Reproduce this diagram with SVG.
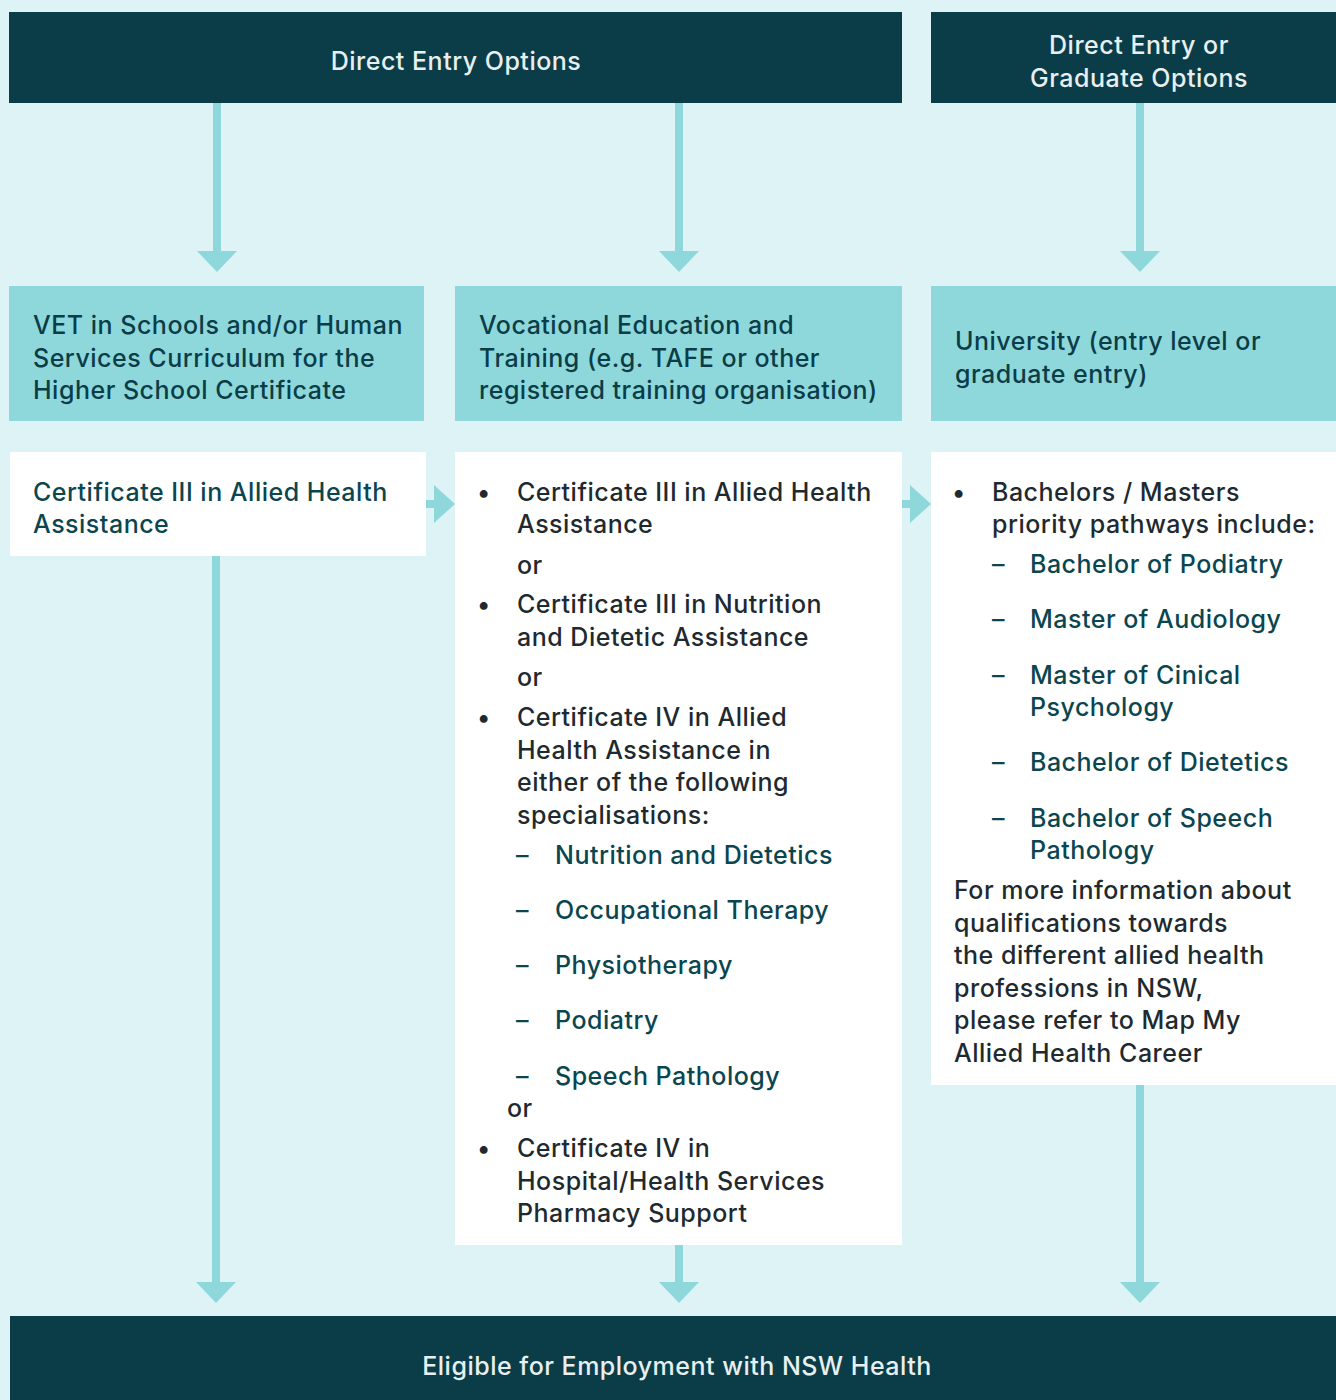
<svg xmlns="http://www.w3.org/2000/svg" width="1336" height="1400" viewBox="0 0 1336 1400">
<style>
text{font-family:Inter,"Noto Sans","Liberation Sans",sans-serif;font-size:25px;font-weight:500;letter-spacing:0.5px}
.hd{fill:#0b3d48}
.hdt{fill:#e8eff1;text-anchor:middle}
.cy{fill:#8ed8db}
.cyt{fill:#0b3d48}
.wb{fill:#ffffff}
.bt{fill:#1e2a2f}
.st{fill:#0b4650}
.arr{fill:#8ed8db}
</style>
<rect width="1336" height="1400" fill="#def3f5"/>
<g id="connectors">
<rect class="arr" x="213" y="103" width="8" height="150"/>
<polygon class="arr" points="197,251 237,251 217,272"/>
<rect class="arr" x="675" y="103" width="8" height="150"/>
<polygon class="arr" points="659,251 699,251 679,272"/>
<rect class="arr" x="1136" y="103" width="8" height="150"/>
<polygon class="arr" points="1120,251 1160,251 1140,272"/>
<rect class="arr" x="426" y="500" width="10" height="8"/>
<polygon class="arr" points="434,485 434,523 455,504"/>
<rect class="arr" x="901" y="500" width="10" height="8"/>
<polygon class="arr" points="910,485 910,523 931,504"/>
<rect class="arr" x="212" y="556" width="8" height="728"/>
<polygon class="arr" points="196,1282 236,1282 216,1303"/>
<rect class="arr" x="675" y="1245" width="8" height="39"/>
<polygon class="arr" points="659,1282 699,1282 679,1303"/>
<rect class="arr" x="1136" y="1085" width="8" height="199"/>
<polygon class="arr" points="1120,1282 1160,1282 1140,1303"/>
</g>
<g id="header-direct">
<rect class="hd" x="9" y="12" width="893" height="91"/>
<text class="hdt" x="456" y="70">Direct Entry Options</text>
</g>
<g id="header-graduate">
<rect class="hd" x="931" y="12" width="405" height="91"/>
<text class="hdt" x="1139" y="54">Direct Entry or</text>
<text class="hdt" x="1139" y="87">Graduate Options</text>
</g>
<g id="vet-schools">
<rect class="cy" x="9" y="286" width="415" height="135"/>
<text class="cyt" x="33" y="334">VET in Schools and/or Human</text>
<text class="cyt" x="33" y="367">Services Curriculum for the</text>
<text class="cyt" x="33" y="399">Higher School Certificate</text>
</g>
<g id="vet-training">
<rect class="cy" x="455" y="286" width="447" height="135"/>
<text class="cyt" x="479" y="334">Vocational Education and</text>
<text class="cyt" x="479" y="367">Training (e.g. TAFE or other</text>
<text class="cyt" x="479" y="399">registered training organisation)</text>
</g>
<g id="university">
<rect class="cy" x="931" y="286" width="405" height="135"/>
<text class="cyt" x="955" y="350">University (entry level or</text>
<text class="cyt" x="955" y="383">graduate entry)</text>
</g>
<g id="cert-school">
<rect class="wb" x="10" y="452" width="416" height="104"/>
<text class="st" x="33" y="501">Certificate III in Allied Health</text>
<text class="st" x="33" y="533">Assistance</text>
</g>
<g id="vet-quals">
<rect class="wb" x="455" y="452" width="447" height="793"/>
<text class="bt" x="477" y="501">•</text>
<text class="bt" x="517" y="501">Certificate III in Allied Health</text>
<text class="bt" x="517" y="533">Assistance</text>
<text class="bt" x="517" y="574">or</text>
<text class="bt" x="477" y="613">•</text>
<text class="bt" x="517" y="613">Certificate III in Nutrition</text>
<text class="bt" x="517" y="646">and Dietetic Assistance</text>
<text class="bt" x="517" y="686">or</text>
<text class="bt" x="477" y="726">•</text>
<text class="bt" x="517" y="726">Certificate IV in Allied</text>
<text class="bt" x="517" y="759">Health Assistance in</text>
<text class="bt" x="517" y="791">either of the following</text>
<text class="bt" x="517" y="824">specialisations:</text>
<text class="st" x="516" y="864">–</text>
<text class="st" x="555" y="864">Nutrition and Dietetics</text>
<text class="st" x="516" y="919">–</text>
<text class="st" x="555" y="919">Occupational Therapy</text>
<text class="st" x="516" y="974">–</text>
<text class="st" x="555" y="974">Physiotherapy</text>
<text class="st" x="516" y="1029">–</text>
<text class="st" x="555" y="1029">Podiatry</text>
<text class="st" x="516" y="1085">–</text>
<text class="st" x="555" y="1085">Speech Pathology</text>
<text class="bt" x="507" y="1117">or</text>
<text class="bt" x="477" y="1157">•</text>
<text class="bt" x="517" y="1157">Certificate IV in</text>
<text class="bt" x="517" y="1190">Hospital/Health Services</text>
<text class="bt" x="517" y="1222">Pharmacy Support</text>
</g>
<g id="uni-quals">
<rect class="wb" x="931" y="452" width="405" height="633"/>
<text class="bt" x="952" y="501">•</text>
<text class="bt" x="992" y="501">Bachelors / Masters</text>
<text class="bt" x="992" y="533">priority pathways include:</text>
<text class="st" x="992" y="573">–</text>
<text class="st" x="1030" y="573">Bachelor of Podiatry</text>
<text class="st" x="992" y="628">–</text>
<text class="st" x="1030" y="628">Master of Audiology</text>
<text class="st" x="992" y="684">–</text>
<text class="st" x="1030" y="684">Master of Cinical</text>
<text class="st" x="1030" y="716">Psychology</text>
<text class="st" x="992" y="771">–</text>
<text class="st" x="1030" y="771">Bachelor of Dietetics</text>
<text class="st" x="992" y="827">–</text>
<text class="st" x="1030" y="827">Bachelor of Speech</text>
<text class="st" x="1030" y="859">Pathology</text>
<text class="bt" x="954" y="899">For more information about</text>
<text class="bt" x="954" y="932">qualifications towards</text>
<text class="bt" x="954" y="964">the different allied health</text>
<text class="bt" x="954" y="997">professions in NSW,</text>
<text class="bt" x="954" y="1029">please refer to Map My</text>
<text class="bt" x="954" y="1062">Allied Health Career</text>
</g>
<g id="employment">
<rect class="hd" x="10" y="1316" width="1326" height="84"/>
<text class="hdt" x="677" y="1375">Eligible for Employment with NSW Health</text>
</g>
</svg>
